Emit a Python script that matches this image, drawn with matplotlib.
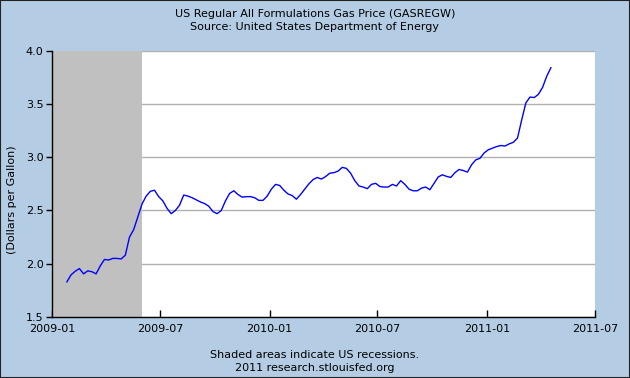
import matplotlib
matplotlib.use("Agg")
import matplotlib.pyplot as plt
import matplotlib.dates as mdates
import numpy as np
import pandas as pd
from matplotlib.patches import Rectangle

# ---- data ----
start_date = "2009-01-26"
prices = [
    1.83, 1.896, 1.93, 1.955, 1.905, 1.933, 1.925, 1.905, 1.98, 2.04,
    2.035, 2.05, 2.05, 2.045, 2.08, 2.25, 2.32, 2.44, 2.56, 2.635,
    2.68, 2.69, 2.63, 2.59, 2.52, 2.47, 2.50, 2.55, 2.645, 2.635,
    2.62, 2.60, 2.58, 2.565, 2.54, 2.49, 2.47, 2.50, 2.59, 2.66,
    2.685, 2.65, 2.625, 2.63, 2.63, 2.62, 2.595, 2.595, 2.635, 2.70,
    2.745, 2.735, 2.69, 2.655, 2.64, 2.606, 2.65, 2.70, 2.75, 2.79,
    2.81, 2.795, 2.818, 2.85, 2.855, 2.87, 2.905, 2.895, 2.85, 2.78,
    2.73, 2.72, 2.705, 2.745, 2.755, 2.725, 2.72, 2.72, 2.745, 2.73,
    2.78, 2.745, 2.70, 2.685, 2.685, 2.71, 2.72, 2.695, 2.755, 2.815,
    2.835, 2.82, 2.81, 2.855, 2.885, 2.875, 2.86, 2.93, 2.975, 2.99,
    3.04, 3.07, 3.085, 3.10, 3.11, 3.105, 3.125, 3.14, 3.18, 3.35,
    3.51, 3.565, 3.56, 3.59, 3.655, 3.76, 3.84,
]
dates = pd.date_range(start_date, periods=len(prices), freq="7D")
recession = ("2009-01-01", "2009-06-01")
x_ticks = ["2009-01", "2009-07", "2010-01", "2010-07", "2011-01", "2011-07"]
y_ticks = [1.5, 2.0, 2.5, 3.0, 3.5, 4.0]
title_lines = ["US Regular All Formulations Gas Price (GASREGW)",
               "Source: United States Department of Energy"]
footer_lines = ["Shaded areas indicate US recessions.",
                "2011 research.stlouisfed.org"]
y_label = "(Dollars per Gallon)"

# ---- style ----
bg = "#B4CDE4"
W, H = 630, 378
fig = plt.figure(figsize=(W / 100, H / 100), dpi=100, facecolor=bg)

L, R, T, B = 52, 595, 50.7, 317
ax = fig.add_axes([L / W, 1 - B / H, (R - L) / W, (B - T) / H])
ax.set_facecolor("white")

xt = pd.to_datetime([s + "-01" for s in x_ticks])
ax.set_xlim(xt[0], xt[-1])
ax.set_ylim(1.5, 4.0)

ax.axvspan(pd.Timestamp(recession[0]), pd.Timestamp(recession[1]),
           color="#C0C0C0", lw=0, zorder=1)
ax.plot(dates, prices, color="#0000FF", lw=1.0, zorder=3)

ax.set_axisbelow(True)
ax.grid(axis="y", color="#B0B0B0", lw=1.0)
ax.grid(axis="x", visible=False)

ax.set_xticks(xt)
ax.set_xticklabels(x_ticks)
ax.set_yticks(y_ticks)
ax.set_yticklabels([f"{v:.1f}" for v in y_ticks])

for s in ["top", "right"]:
    ax.spines[s].set_visible(False)
for s in ["left", "bottom"]:
    ax.spines[s].set_color("black")
    ax.spines[s].set_linewidth(1.0)

ax.tick_params(axis="x", direction="in", length=5, width=1, labelsize=8,
               pad=5, colors="black")
ax.tick_params(axis="y", direction="out", length=4, width=1, labelsize=8,
               pad=2, colors="black")

fig.text(0.5, 1 - 14 / H, title_lines[0], ha="center", va="center", fontsize=8)
fig.text(0.5, 1 - 26.5 / H, title_lines[1], ha="center", va="center", fontsize=8)
fig.text(0.5, 1 - 355 / H, footer_lines[0], ha="center", va="center", fontsize=8)
fig.text(0.5, 1 - 368 / H, footer_lines[1], ha="center", va="center", fontsize=8)
fig.text(12 / W, 1 - 200 / H, y_label, rotation=90, ha="center", va="center",
         fontsize=8)

fig.patches.append(Rectangle((0, 0), 1, 1, transform=fig.transFigure,
                             fill=False, edgecolor="#222222", lw=1.5))

fig.savefig("out.png", dpi=100, facecolor=bg)
